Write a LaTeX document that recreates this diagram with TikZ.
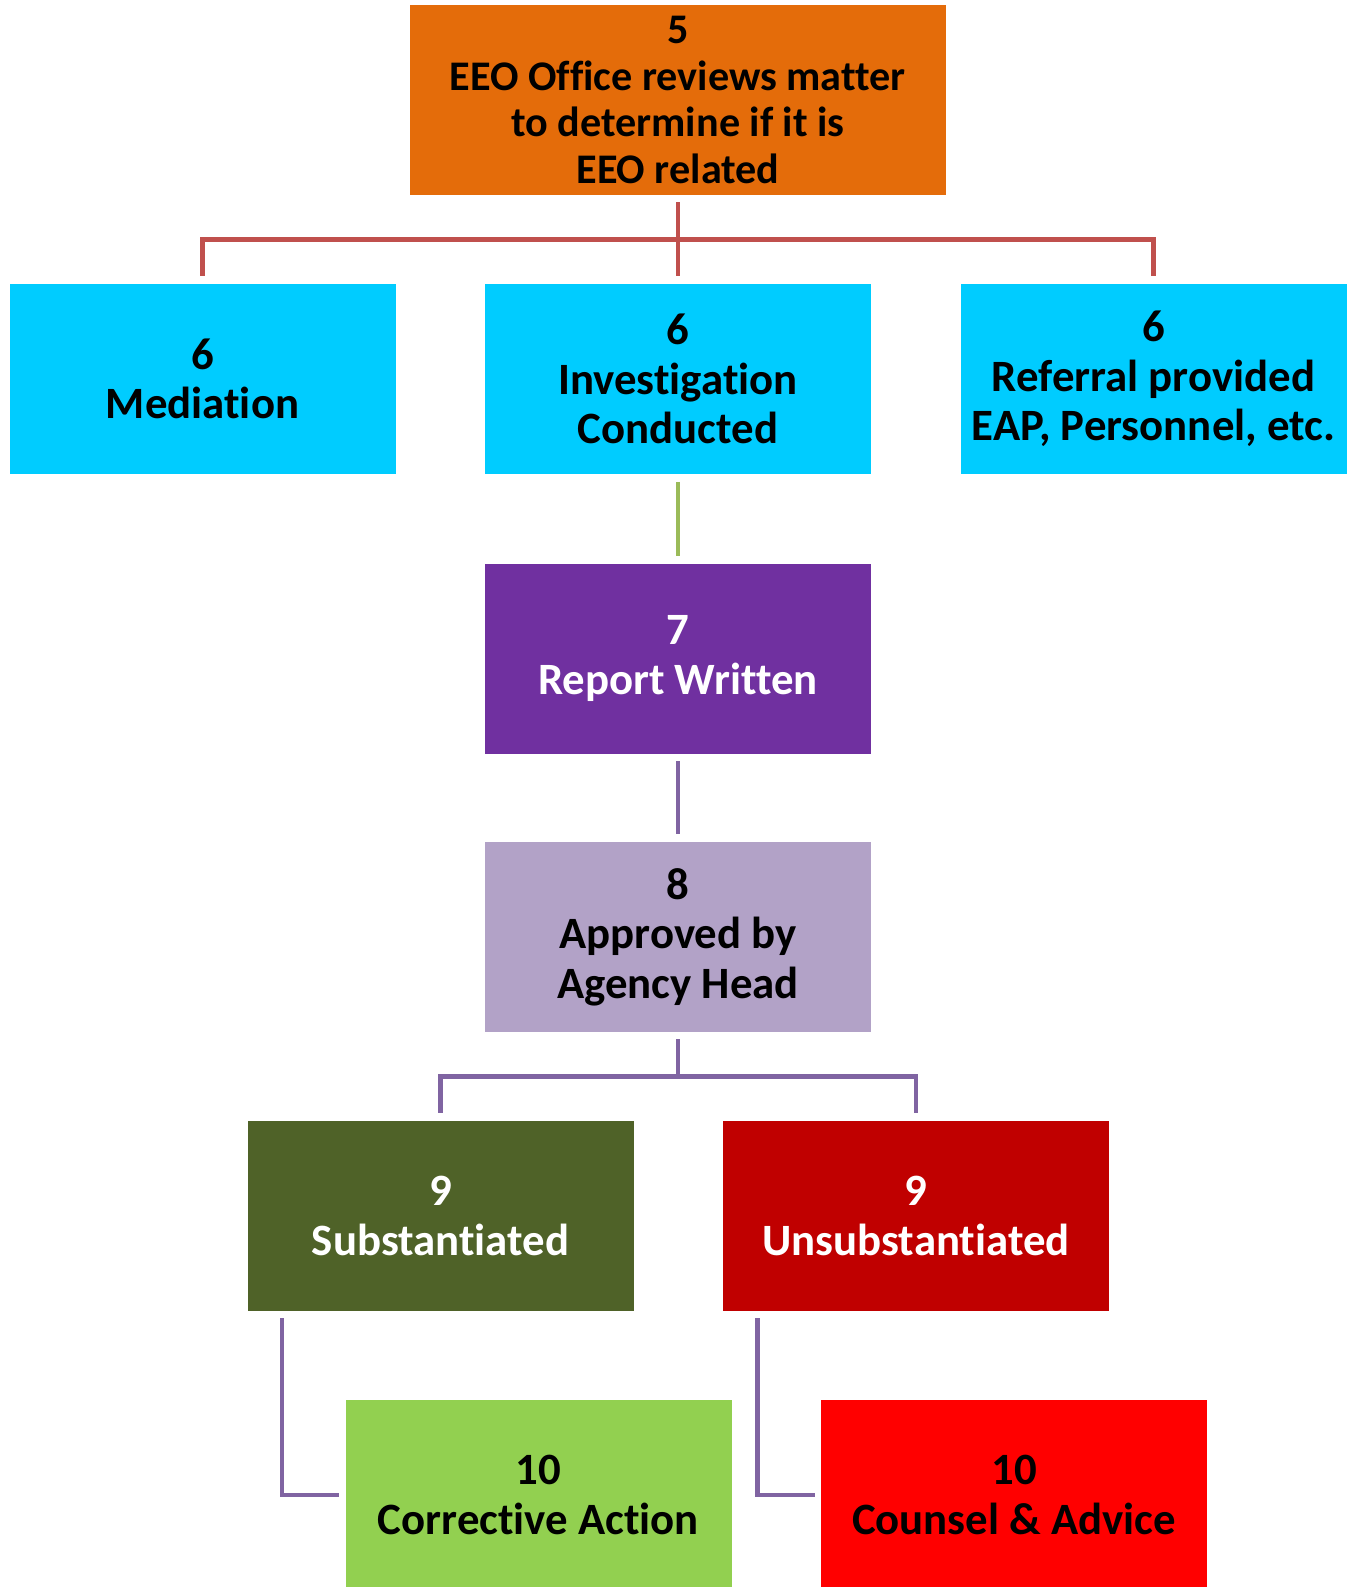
\documentclass[tikz,border=0pt]{standalone}
\usepackage{fontspec}
\setmainfont[Ligatures={NoCommon}]{Carlito}
\usepackage{xcolor}
\usetikzlibrary{positioning,calc}

\definecolor{eeoorange}{HTML}{E46C0A}
\definecolor{eeocyan}{HTML}{00CCFF}
\definecolor{eeopurple}{HTML}{7030A0}
\definecolor{eeolilac}{HTML}{B2A2C7}
\definecolor{eeoolive}{HTML}{4F6228}
\definecolor{eeodarkred}{HTML}{C00000}
\definecolor{eeolime}{HTML}{92D050}
\definecolor{eeored}{HTML}{FF0000}
\definecolor{linered}{HTML}{C0504D}
\definecolor{linegreen}{HTML}{9BBB59}
\definecolor{linepurple}{HTML}{8064A2}

\tikzset{
  stepbox/.style={rectangle, inner sep=0pt, minimum width=7.72cm, minimum height=3.8cm,
    align=center, font=\fontsize{25.5}{28.2}\selectfont\bfseries},
  link/.style={line width=2.5pt},
}

\begin{document}
\begin{tikzpicture}
    \useasboundingbox (0,0) rectangle (27,-31.74);
    \begin{scope}
    \clip (0,0) rectangle (27,-31.74);

    % Step 5
    \node[stepbox, fill=eeoorange, minimum width=10.72cm,
          font=\fontsize{24}{26.6}\selectfont\bfseries] (review) at (13.56,-2.0)
        {5\\EEO Office reviews matter\\to determine if it is\\EEO related};

    % Step 6
    \node[stepbox, fill=eeocyan] (mediation) at (4.05,-7.58) {6\\Mediation};
    \node[stepbox, fill=eeocyan] (investigation) at (13.56,-7.58) {6\\Investigation\\Conducted};
    \node[stepbox, fill=eeocyan] (referral) at (23.07,-7.58) {6\\Referral provided\\EAP, Personnel, etc.};

    % Step 7 and 8
    \node[stepbox, fill=eeopurple, text=white] (report) at (13.56,-13.17) {7\\Report Written};
    \node[stepbox, fill=eeolilac] (approved) at (13.56,-18.74) {8\\Approved by\\Agency Head};

    % Step 9
    \node[stepbox, fill=eeoolive, text=white] (subst) at (8.81,-24.32) {9\\Substantiated};
    \node[stepbox, fill=eeodarkred, text=white] (unsubst) at (18.32,-24.32) {9\\Unsubstantiated};

    % Step 10
    \node[stepbox, fill=eeolime] (corrective) at (10.77,-29.9) {10\\Corrective Action};
    \node[stepbox, fill=eeored] (counsel) at (20.28,-29.9) {10\\Counsel \& Advice};
    \end{scope}

    % Fork below step 5
    \coordinate (fork5) at ($(review.south)!.5!(investigation.north)$);
    \draw[link, linered, shorten <=0.14cm] (review.south) -- (fork5);
    \draw[link, linered, shorten >=0.15cm] (fork5) -| (mediation.north);
    \draw[link, linered, shorten >=0.15cm] (fork5) -- (investigation.north);
    \draw[link, linered, shorten >=0.15cm] (fork5) -| (referral.north);

    % Straight links
    \draw[link, linegreen, shorten <=0.15cm, shorten >=0.15cm] (investigation) -- (report);
    \draw[link, linepurple, shorten <=0.15cm, shorten >=0.15cm] (report) -- (approved);

    % Fork below step 8
    \coordinate (fork8) at ($(approved.south)!.5!(approved.south |- subst.north)$);
    \draw[link, linepurple, shorten <=0.14cm] (approved.south) -- (fork8);
    \draw[link, linepurple, shorten >=0.15cm] (fork8) -| (subst.north);
    \draw[link, linepurple, shorten >=0.15cm] (fork8) -| (unsubst.north);

    % Elbows to step 10
    \draw[link, linepurple, shorten <=0.14cm, shorten >=0.12cm]
        ([xshift=0.7cm]subst.south west) |- (corrective.west);
    \draw[link, linepurple, shorten <=0.14cm, shorten >=0.12cm]
        ([xshift=0.7cm]unsubst.south west) |- (counsel.west);
\end{tikzpicture}
\end{document}
